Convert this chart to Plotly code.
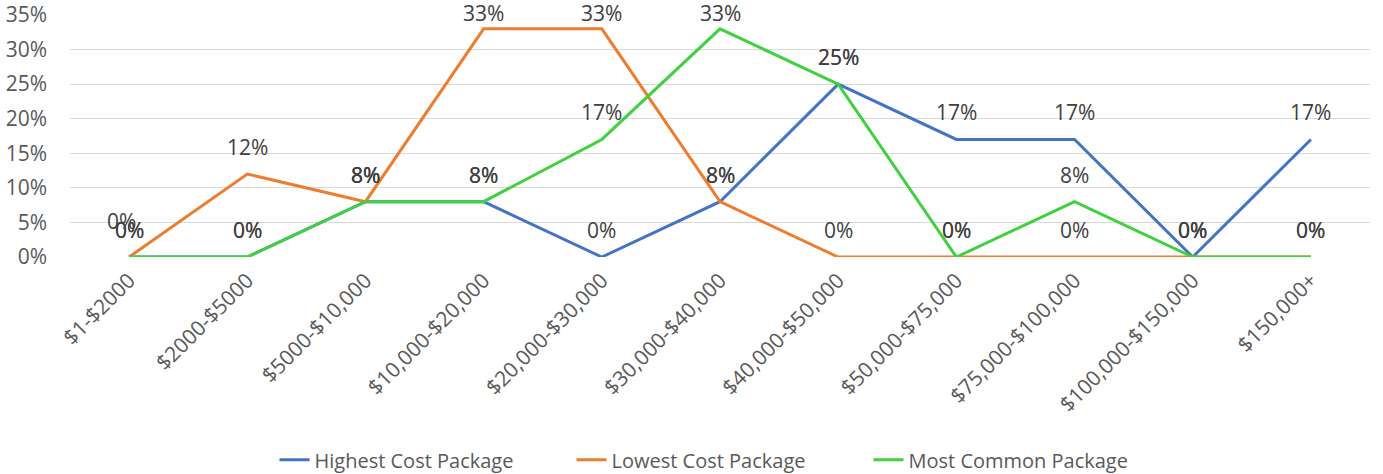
import plotly.graph_objects as go

categories = ["$1-$2000", "$2000-$5000", "$5000-$10,000", "$10,000-$20,000",
              "$20,000-$30,000", "$30,000-$40,000", "$40,000-$50,000",
              "$50,000-$75,000", "$75,000-$100,000", "$100,000-$150,000", "$150,000+"]

highest_cost = [0.00, 0.00, 0.08, 0.08, 0.00, 0.08, 0.25, 0.17, 0.17, 0.00, 0.17]
lowest_cost = [0.00, 0.12, 0.08, 0.33, 0.33, 0.08, 0.00, 0.00, 0.00, 0.00, 0.00]
most_common = [0.00, 0.00, 0.08, 0.08, 0.17, 0.33, 0.25, 0.00, 0.08, 0.00, 0.00]

series = [
    ("Highest Cost Package", highest_cost, "#4472C4"),
    ("Lowest Cost Package", lowest_cost, "#ED7D31"),
    ("Most Common Package", most_common, "#40D040"),
]

FONT = "'Open Sans', sans-serif"
W, H = 1383, 474
M_L, M_R, M_T, M_B = 70, 13, 15, 217
Y_MAX = 0.35
PLOT_H = H - M_T - M_B

fig = go.Figure()
annotations = []
for idx, (name, values, color) in enumerate(series):
    fig.add_trace(go.Scatter(
        x=categories, y=values, mode="lines", name=name,
        line=dict(color=color, width=3),
    ))
    for i, (cat, v) in enumerate(zip(categories, values)):
        # keep labels inside the page: near the top they sit closer to the line
        py = M_T + (Y_MAX - v) / Y_MAX * PLOT_H
        shift = min(27, py - 13)
        # the first label of the first series is nudged so the stacked 0% labels stay apart
        dx, dy = (-8, 9) if (idx == 0 and i == 0) else (0, 0)
        annotations.append(dict(
            x=cat, y=v, text=f"{round(v * 100)}%", showarrow=False,
            xshift=dx, yshift=shift + dy,
            font=dict(family=FONT, size=21, color="#404040"),
        ))

fig.update_layout(
    width=W, height=H,
    margin=dict(l=M_L, r=M_R, t=M_T, b=M_B, autoexpand=False),
    paper_bgcolor="white", plot_bgcolor="white",
    font=dict(family=FONT, size=21, color="#595959"),
    showlegend=True,
    legend=dict(orientation="h", x=0.5, xanchor="center",
                y=0.03, yanchor="middle", yref="container",
                font=dict(family=FONT, size=20, color="#595959"),
                itemwidth=30, entrywidth=252, entrywidthmode="pixels"),
    annotations=annotations,
)
fig.update_xaxes(
    type="category", range=[-0.5, 10.5], tickangle=-45,
    showgrid=False, showline=False, zeroline=False,
    ticks="", ticklabelstandoff=6,
    tickfont=dict(family=FONT, size=21, color="#595959"),
)
fig.update_yaxes(
    range=[0, Y_MAX], dtick=0.05, tickformat=".0%",
    showgrid=True, gridcolor="#D9D9D9", gridwidth=1,
    zeroline=False, showline=False, ticks="",
    ticklabelstandoff=22,
    tickfont=dict(family=FONT, size=21, color="#595959"),
)

fig.write_html("out.html")
